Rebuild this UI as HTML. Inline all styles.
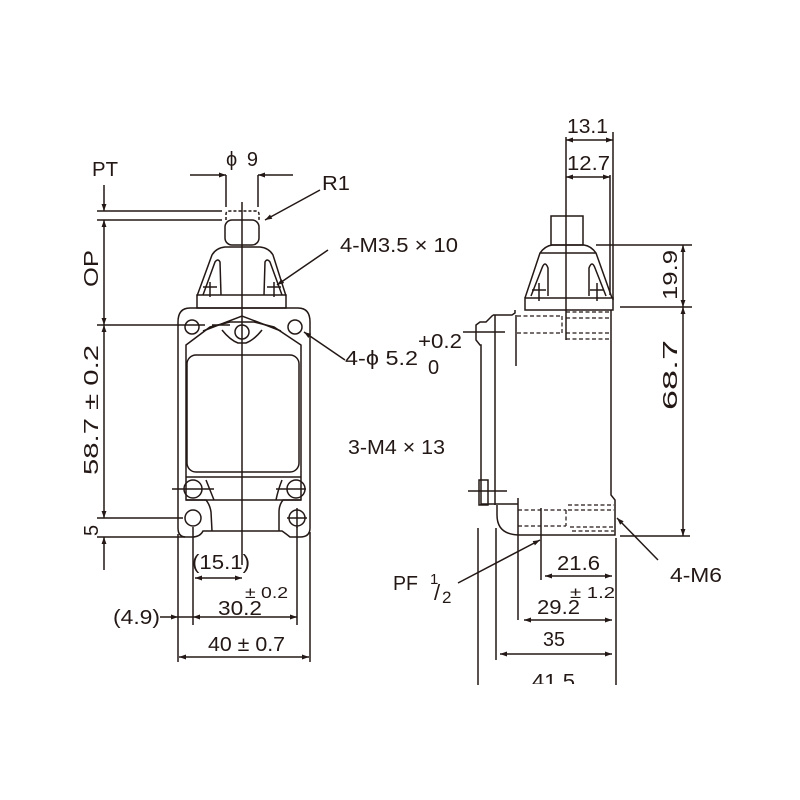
<!DOCTYPE html>
<html><head><meta charset="utf-8"><style>
html,body{margin:0;padding:0;background:#fff}
svg{display:block}
text{font-family:"Liberation Sans",sans-serif;fill:#231815}
</style></head><body>
<svg width="800" height="800" viewBox="0 0 800 800" xmlns="http://www.w3.org/2000/svg">
<defs>
<marker id="a" viewBox="0 0 10 10" refX="10" refY="5" markerWidth="10" markerHeight="7" orient="auto-start-reverse" markerUnits="userSpaceOnUse"><path d="M0,1.5 L10,5 L0,8.5 z" fill="#231815"/></marker>
</defs>
<g stroke="#231815" stroke-width="1.5" fill="none">
<!-- LEFT VIEW -->
<line x1="242" y1="202" x2="242" y2="565"/>
<path d="M226,220 L226,214 Q226,211 230,211 L255,211 Q259,211 259,214 L259,220" stroke-dasharray="3,2"/>
<rect x="225" y="220" width="34" height="25" rx="7"/>
<path d="M197,296 L212,255 Q216,248 225,247 L260,247 Q269,248 273,255 L286,296"/>
<path d="M203,295 L215,262 Q218,258 220,262 L221,295"/>
<path d="M282,295 L270,262 Q267,258 265,262 L264,295"/>
<line x1="210" y1="282" x2="210" y2="297"/><line x1="203" y1="287" x2="217" y2="287"/>
<line x1="274" y1="282" x2="274" y2="297"/><line x1="267" y1="287" x2="281" y2="287"/>
<rect x="197" y="295" width="89" height="13"/>
<path d="M190,308 L298,308 Q310,308 310,322 L310,528 Q310,537 300,537 L290,537 Q285,533 282,531 L203,531 Q200,537 192,537 L186,537 Q178,537 178,528 L178,322 Q178,308 190,308 Z"/>
<path d="M186,345 L210,327 L230,322 L254,322 L274,327 L301,345 L301,500 L186,500 Z"/>
<path d="M203,331 L242,316 L281,331"/>
<path d="M222,330 Q230,340 238,343 L246,343 Q254,340 262,330"/>
<rect x="187" y="355" width="112" height="117" rx="9"/>
<line x1="186" y1="477" x2="301" y2="477"/>
<circle cx="192" cy="327" r="7"/><circle cx="295" cy="327" r="7"/>
<circle cx="242" cy="332" r="7"/>
<line x1="212" y1="325" x2="230" y2="325"/>
<circle cx="193" cy="489" r="9"/><circle cx="296" cy="489" r="9"/>
<line x1="172" y1="489" x2="214" y2="489"/><line x1="276" y1="489" x2="306" y2="489"/>
<path d="M206,480 Q210,490 214,500"/><path d="M282,480 Q278,490 276,500"/>
<path d="M186,500 L206,500 Q210,505 211,512 L212,531"/>
<path d="M301,500 L283,500 Q279,505 279,512 L279,531"/>
<circle cx="193" cy="518" r="8"/><circle cx="297" cy="518" r="8"/>
<line x1="287" y1="518" x2="307" y2="518"/><line x1="297" y1="508" x2="297" y2="528"/>
<line x1="97" y1="211" x2="222" y2="211"/>
<line x1="97" y1="220" x2="222" y2="220"/>
<line x1="97" y1="325" x2="205" y2="325"/>
<line x1="97" y1="518" x2="183" y2="518"/>
<line x1="97" y1="537" x2="185" y2="537"/>
<line x1="104" y1="185" x2="104" y2="211" marker-end="url(#a)"/>
<line x1="104" y1="220" x2="104" y2="325" marker-start="url(#a)" marker-end="url(#a)"/>
<line x1="104" y1="325" x2="104" y2="518" marker-start="url(#a)" marker-end="url(#a)"/>
<line x1="104" y1="560" x2="104" y2="570"/>
<line x1="104" y1="560" x2="104" y2="537" marker-end="url(#a)"/>
<line x1="226" y1="175" x2="226" y2="207"/><line x1="258" y1="175" x2="258" y2="207"/>
<line x1="190" y1="175" x2="226" y2="175" marker-end="url(#a)"/>
<line x1="293" y1="175" x2="258" y2="175" marker-end="url(#a)"/>
<line x1="320" y1="190" x2="265" y2="220" marker-end="url(#a)"/>
<line x1="328" y1="250" x2="277" y2="285" marker-end="url(#a)"/>
<line x1="345" y1="360" x2="304" y2="332" marker-end="url(#a)"/>
<line x1="178" y1="534" x2="178" y2="662"/>
<line x1="193" y1="527" x2="193" y2="625"/>
<line x1="297" y1="527" x2="297" y2="625"/>
<line x1="310" y1="532" x2="310" y2="662"/>
<line x1="195" y1="578" x2="242" y2="578" marker-start="url(#a)" marker-end="url(#a)"/>
<line x1="160" y1="617" x2="178" y2="617" marker-end="url(#a)"/>
<line x1="178" y1="617" x2="193" y2="617"/>
<line x1="193" y1="617" x2="297" y2="617" marker-start="url(#a)" marker-end="url(#a)"/>
<line x1="179" y1="657" x2="309" y2="657" marker-start="url(#a)" marker-end="url(#a)"/>

<!-- RIGHT VIEW -->
<line x1="566" y1="137" x2="566" y2="340"/>
<line x1="613" y1="132" x2="613" y2="300"/>
<line x1="610" y1="175" x2="610" y2="295"/>
<line x1="566" y1="140" x2="613" y2="140" marker-start="url(#a)" marker-end="url(#a)"/>
<line x1="566" y1="177" x2="610" y2="177" marker-start="url(#a)" marker-end="url(#a)"/>
<rect x="551" y="216" width="32" height="29"/>
<path d="M525,298 L540,253 Q545,246 552,245 L584,245 Q591,246 596,253 L612,298"/>
<line x1="540" y1="253" x2="596" y2="253"/>
<path d="M531,296 L542,268 Q545,260 548,268 L548,296"/>
<path d="M606,296 L595,268 Q592,260 589,268 L589,296"/>
<line x1="539" y1="283" x2="539" y2="301"/><line x1="532" y1="290" x2="546" y2="290"/>
<line x1="597" y1="283" x2="597" y2="301"/><line x1="590" y1="290" x2="604" y2="290"/>
<rect x="525" y="298" width="88" height="12"/>
<path d="M611,310 L611,495 L615,500 L615,535 L520,535 Q497,535 497,515 L497,505"/>
<path d="M493,315 L512,315 L515,313 L515,310"/>
<line x1="516" y1="315" x2="516" y2="366"/>
<line x1="518" y1="498" x2="518" y2="540"/>
<line x1="481" y1="504" x2="518" y2="504"/>
<path d="M493,315 L486,322 L480,322 L476,325 L476,340 L480,345 L481,345 L481,505"/>
<line x1="495" y1="315" x2="495" y2="505"/>
<line x1="463" y1="332" x2="505" y2="332"/>
<rect x="479" y="480" width="9" height="25"/>
<line x1="468" y1="491" x2="507" y2="491"/>
<g stroke-dasharray="4,2.5" stroke-width="1.2">
<line x1="517" y1="316" x2="562" y2="316"/><line x1="517" y1="333" x2="562" y2="333"/>
<line x1="562" y1="316" x2="562" y2="333"/>
<line x1="566" y1="312" x2="611" y2="312"/><line x1="566" y1="318" x2="611" y2="318"/>
<line x1="566" y1="333" x2="611" y2="333"/><line x1="566" y1="339" x2="611" y2="339"/>
<line x1="518" y1="510" x2="566" y2="510"/><line x1="518" y1="526" x2="566" y2="526"/>
<line x1="566" y1="510" x2="566" y2="526"/>
<line x1="568" y1="505" x2="614" y2="505"/><line x1="568" y1="510" x2="614" y2="510"/>
<line x1="570" y1="527" x2="614" y2="527"/><line x1="572" y1="531" x2="614" y2="531"/>
</g>
<line x1="596" y1="245" x2="692" y2="245"/>
<line x1="620" y1="307" x2="692" y2="307"/>
<line x1="620" y1="536" x2="690" y2="536"/>
<line x1="683" y1="245" x2="683" y2="307" marker-start="url(#a)" marker-end="url(#a)"/>
<line x1="683" y1="307" x2="683" y2="536" marker-start="url(#a)" marker-end="url(#a)"/>
<line x1="478" y1="528" x2="478" y2="685"/>
<line x1="496" y1="528" x2="496" y2="660"/>
<line x1="518" y1="540" x2="518" y2="620"/>
<line x1="541" y1="508" x2="541" y2="580"/>
<line x1="616" y1="538" x2="616" y2="685"/>
<line x1="545" y1="576" x2="612" y2="576" marker-start="url(#a)" marker-end="url(#a)"/>
<line x1="524" y1="620" x2="612" y2="620" marker-start="url(#a)" marker-end="url(#a)"/>
<line x1="500" y1="654" x2="612" y2="654" marker-start="url(#a)" marker-end="url(#a)"/>
<line x1="458" y1="583" x2="540" y2="540" marker-end="url(#a)"/>
<line x1="658" y1="560" x2="617" y2="518" marker-end="url(#a)"/>
</g>
<g font-size="20" lengthAdjust="spacingAndGlyphs">
<text x="92" y="176" textLength="26" lengthAdjust="spacingAndGlyphs">PT</text>
<text x="226" y="166" textLength="32" lengthAdjust="spacing">ϕ9</text>
<text x="322" y="190" textLength="28" lengthAdjust="spacingAndGlyphs">R1</text>
<text x="340" y="252" textLength="118" lengthAdjust="spacingAndGlyphs">4-M3.5 × 10</text>
<text x="345" y="365" textLength="73" lengthAdjust="spacingAndGlyphs">4-ϕ 5.2</text>
<text x="418" y="348" textLength="44" lengthAdjust="spacingAndGlyphs">+0.2</text>
<text x="428" y="374">0</text>
<text x="348" y="454" textLength="97" lengthAdjust="spacingAndGlyphs">3-M4 × 13</text>
<text transform="translate(98,287) rotate(-90)" textLength="37" lengthAdjust="spacingAndGlyphs">OP</text>
<text transform="translate(98,475) rotate(-90)" textLength="130" lengthAdjust="spacingAndGlyphs">58.7 ± 0.2</text>
<text transform="translate(98,536) rotate(-90)">5</text>
<text x="192" y="569" textLength="58" lengthAdjust="spacingAndGlyphs">(15.1)</text>
<text x="113" y="624" textLength="47" lengthAdjust="spacingAndGlyphs">(4.9)</text>
<text x="218" y="615" textLength="44" lengthAdjust="spacingAndGlyphs">30.2</text>
<text x="245" y="598" font-size="16" textLength="43" lengthAdjust="spacingAndGlyphs">± 0.2</text>
<text x="208" y="651" textLength="77" lengthAdjust="spacingAndGlyphs">40 ± 0.7</text>
<text x="567" y="133" textLength="41" lengthAdjust="spacingAndGlyphs">13.1</text>
<text x="567" y="170" textLength="43" lengthAdjust="spacingAndGlyphs">12.7</text>
<text transform="translate(677,300) rotate(-90)" textLength="50" lengthAdjust="spacingAndGlyphs">19.9</text>
<text transform="translate(677,410) rotate(-90)" textLength="70" lengthAdjust="spacingAndGlyphs">68.7</text>
<text x="393" y="590" textLength="25" lengthAdjust="spacingAndGlyphs">PF</text>
<text x="430" y="584" font-size="15">1</text>
<text x="434" y="600" font-size="22">/</text>
<text x="442" y="603" font-size="17">2</text>
<text x="670" y="582" textLength="52" lengthAdjust="spacingAndGlyphs">4-M6</text>
<text x="557" y="570" textLength="43" lengthAdjust="spacingAndGlyphs">21.6</text>
<text x="537" y="614" textLength="43" lengthAdjust="spacingAndGlyphs">29.2</text>
<text x="570" y="598" font-size="16" textLength="45" lengthAdjust="spacingAndGlyphs">± 1.2</text>
<text x="543" y="646" textLength="22" lengthAdjust="spacingAndGlyphs">35</text>
<text x="532" y="688" textLength="43" lengthAdjust="spacingAndGlyphs">41.5</text>
</g>
<rect x="520" y="684" width="80" height="20" fill="#fff"/>
</svg>
</body></html>
